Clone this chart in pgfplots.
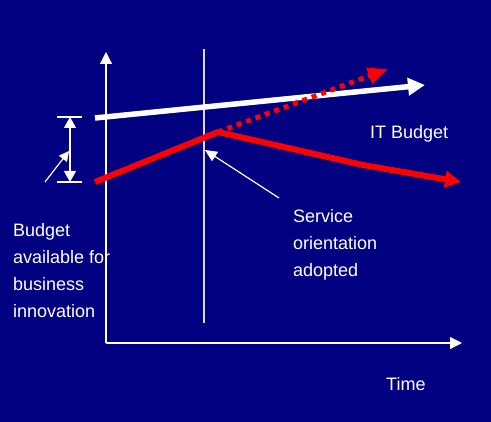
\documentclass[border=0pt]{standalone}
\usepackage{fontspec}
\setmainfont{Liberation Sans}
\usepackage{pgfplots}
\pgfplotsset{compat=1.18}
\usetikzlibrary{arrows.meta}
\definecolor{bgnavy}{RGB}{0,0,128}
\begin{document}
\begin{tikzpicture}
\begin{axis}[
    width=491pt, height=422pt, scale only axis,
    xmin=0, xmax=491, ymin=0, ymax=422, y dir=reverse,
    axis lines=none, ticks=none,
    axis background/.style={fill=bgnavy},
    clip=false,
    every axis plot/.append style={mark=none},
]
% axes
\addplot[white, line width=1.3pt, -{Triangle[length=12pt,width=12pt]}] coordinates {(106,343) (106,52)};
\addplot[white, line width=1.3pt, -{Triangle[length=12pt,width=12pt]}] coordinates {(106,343) (462,343)};
% moment of adoption
\addplot[white!85!bgnavy, line width=1.3pt] coordinates {(204,49) (204,323)};
% IT budget
\addplot[white, line width=5.5pt, -{Triangle[length=17pt,width=17pt]}] coordinates {(95,118) (425,85)};
% budget for innovation, with and without service orientation
\addplot[red, line width=5pt, dash pattern=on 5pt off 5pt, -{Triangle[length=20pt,width=16pt]}] coordinates {(218,132) (388,69)};
\addplot[red, line width=6pt, line join=round, -{Triangle[length=16pt,width=16pt]}] coordinates {(95,182) (218,132) (363,165) (461,182)};
% gap marker
\addplot[white, line width=1.2pt] coordinates {(57,117) (82,117)};
\addplot[white, line width=1.2pt] coordinates {(57,182) (82,182)};
\addplot[white, line width=1.2pt, {Triangle[length=11pt,width=12pt]}-{Triangle[length=11pt,width=12pt]}] coordinates {(70,117) (70,182)};
\addplot[white, line width=1.2pt, -{Triangle[length=10pt,width=10pt]}] coordinates {(45,182) (69,151)};
\addplot[white, line width=1.2pt, -{Triangle[length=12pt,width=11pt]}] coordinates {(279,198) (205,150)};
% labels
\begin{scope}[every node/.style={text=white, inner sep=0pt, anchor=base west, font=\fontsize{18}{27}\selectfont}]
\node at (axis cs:370,139) {IT Budget};
\node at (axis cs:13,237) {Budget};
\node at (axis cs:13,264) {available for};
\node at (axis cs:13,291) {business};
\node at (axis cs:13,318) {innovation};
\node at (axis cs:293,223) {Service};
\node at (axis cs:293,250) {orientation};
\node at (axis cs:293,277) {adopted};
\node at (axis cs:386,391) {Time};
\end{scope}
\end{axis}
\end{tikzpicture}
\end{document}
